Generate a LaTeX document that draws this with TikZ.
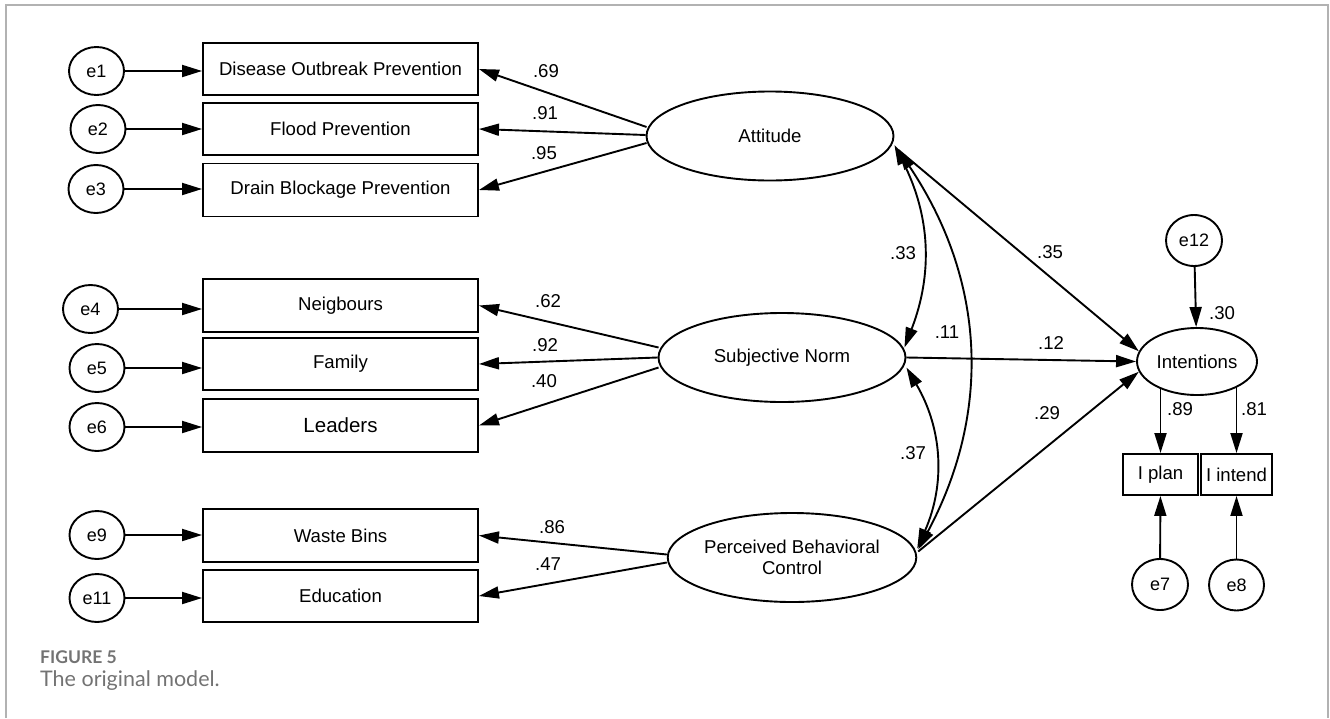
\documentclass[tikz,border=0pt]{standalone}
\usepackage{fontspec}
\setmainfont{Liberation Sans}
\newfontfamily\capfont{Lato}
\usetikzlibrary{arrows.meta,shapes.geometric,calc,backgrounds}
\newcommand{\fs}{\fontsize{18.6}{21}\selectfont}
\newcommand{\fe}{\fontsize{18}{20}\selectfont}
\begin{document}
\begin{tikzpicture}[x=1pt,y=-1pt,
  box/.style={draw, line width=1.9pt, fill=white, minimum width=275pt, minimum height=52pt, inner sep=0pt, font=\fs},
  sbox/.style={draw, line width=1.9pt, fill=white, minimum height=41pt, inner sep=0pt, font=\fs},
  err/.style={ellipse, draw, line width=1.9pt, fill=white, minimum width=55pt, minimum height=48pt, inner sep=0pt, font=\fe},
  lat/.style={ellipse, draw, line width=1.9pt, fill=white, minimum width=247pt, minimum height=89pt, inner sep=0pt, font=\fs, align=center},
  tip/.tip={Triangle[length=20pt,width=12pt]},
  onepath/.style={line width=1.9pt, -tip},
  twopath/.style={line width=1.9pt, tip-tip},
  lbl/.style={font=\fs, inner sep=0pt}]
\useasboundingbox (0,0) rectangle (1330,718);

% page frame
\draw[black!30, line width=2pt] (6,718) -- (6,5) -- (1328,5) -- (1328,718);

% indicators
\node[box] (b1) at (340.5,69) {Disease Outbreak Prevention};
\node[box] (b2) at (340.5,129) {Flood Prevention};
\node[box, minimum height=53pt] (b3) at (340.5,190) {Drain Blockage Prevention};
\node[box, minimum height=53pt] (b4) at (340.5,305.5) {Neigbours};
\node[box] (b5) at (340.5,364) {Family};
\node[box, minimum height=53pt, font=\fontsize{20.5}{24}\selectfont] (b6) at (340.5,425.5) {Leaders};
\node[box, minimum height=53pt] (b9) at (340.5,535.5) {Waste Bins};
\node[box] (b11) at (340.5,596) {Education};

% error terms of the indicators
\node[err] (e1) at (96.5,71) {e1};
\node[err] (e2) at (98,129) {e2};
\node[err] (e3) at (96,189) {e3};
\node[err] (e4) at (90.5,309) {e4};
\node[err] (e5) at (97,368) {e5};
\node[err] (e6) at (97,427) {e6};
\node[err] (e9) at (97,535) {e9};
\node[err] (e11) at (97,598) {e11};

% latent variables
\node[lat] (att) at (770,136) {Attitude};
\node[lat] (sn) at (782,357.5) {Subjective Norm};
\node[lat] (pbc) at (792,557.5) {Perceived Behavioral\\Control};
\node[lat, minimum width=120pt, minimum height=67pt] (int) at (1197,361.5) {Intentions};

% intention items and their errors
\node[sbox, minimum width=75pt] (plan) at (1160.5,474.5) {I plan};
\node[sbox, minimum width=71pt] (intend) at (1236.5,474.5) {I intend};
\node[err, minimum width=56pt, minimum height=51pt] (e12) at (1194,240.5) {e12};
\node[err, minimum width=56pt, minimum height=51pt] (e7) at (1160,584.5) {e7};
\node[err, minimum width=55pt, minimum height=51pt] (e8) at (1236.5,585) {e8};

\begin{scope}[on background layer]
  % errors to indicators
  \foreach \e/\b in {e1/b1,e2/b2,e3/b3,e4/b4,e5/b5,e6/b6,e9/b9,e11/b11}
    \draw[onepath] (\e) -- (\b.west |- \e.center);
  % loadings
  \draw[onepath] ($(att.west)+(1,-9)$) -- (b1.east);
  \draw[onepath] ($(att.west)+(0,-1)$) -- (b2.east);
  \draw[onepath] ($(att.west)+(1,7)$) -- (b3.east);
  \draw[onepath] ($(sn.west)+(1,-10)$) -- (b4.east);
  \draw[onepath] ($(sn.west)+(0,0)$) -- (b5.east);
  \draw[onepath] ($(sn.west)+(1,10)$) -- (b6.east);
  \draw[onepath] ($(pbc.west)+(0,-3)$) -- (b9.east);
  \draw[onepath] ($(pbc.west)+(0,5)$) -- (b11.east);
  % covariances among the latent variables
  \draw[twopath] ($(att.east)+(0,9)$) to[bend left=24] ($(sn.east)+(-2,-10)$);
  \draw[twopath] ($(att.east)+(4,14)$) to[bend left=31] ($(pbc.east)+(1,-8)$);
  \draw[twopath] ($(sn.east)+(0,10)$) to[bend left=27] ($(pbc.east)+(0,-9)$);
  % structural paths
  \draw[onepath] ($(att.east)+(4,14)$) -- (int.170);
  \draw[onepath] (sn.east) -- (int.west);
  \draw[onepath] ($(pbc.east)+(1,-6)$) -- (int.190);
  % intention block
  \draw[onepath] (e12) -- (int);
  \draw[onepath] (plan.north |- int.center) -- (plan.north);
  \draw[onepath] (intend.north |- int.center) -- (intend.north);
  \draw[onepath] (e7) -- (plan);
  \draw[onepath] (e8) -- (intend);
\end{scope}

% coefficients
\node[lbl] (l1) at (546,71) {.69};
\node[lbl] (l2) at (545,113) {.91};
\node[lbl] (l3) at (544,153) {.95};
\node[lbl] (l4) at (548,301) {.62};
\node[lbl] (l5) at (545,345) {.92};
\node[lbl] (l6) at (544,381) {.40};
\node[lbl] (l9) at (552,527) {.86};
\node[lbl] (l11) at (548,564) {.47};
\node[lbl] (c1) at (903,253) {.33};
\node[lbl] (c2) at (947,332) {.11};
\node[lbl] (c3) at (913,453) {.37};
\node[lbl] (p1) at (1050,252) {.35};
\node[lbl] (p2) at (1051,343) {.12};
\node[lbl] (p3) at (1047,413) {.29};
\node[lbl] (r2) at (1222,313) {.30};
\node[lbl] (m1) at (1180,409) {.89};
\node[lbl] (m2) at (1254,409) {.81};

% caption
\node[anchor=base west, inner sep=0pt, text=black!55, font=\capfont\bfseries\fontsize{17.5}{20}\selectfont] (fig) at (40,663) {FIGURE 5};
\node[anchor=base west, inner sep=0pt, text=black!55, font=\capfont\fontsize{21.5}{25}\selectfont] (cap) at (40,686) {The original model.};
\end{tikzpicture}
\end{document}
